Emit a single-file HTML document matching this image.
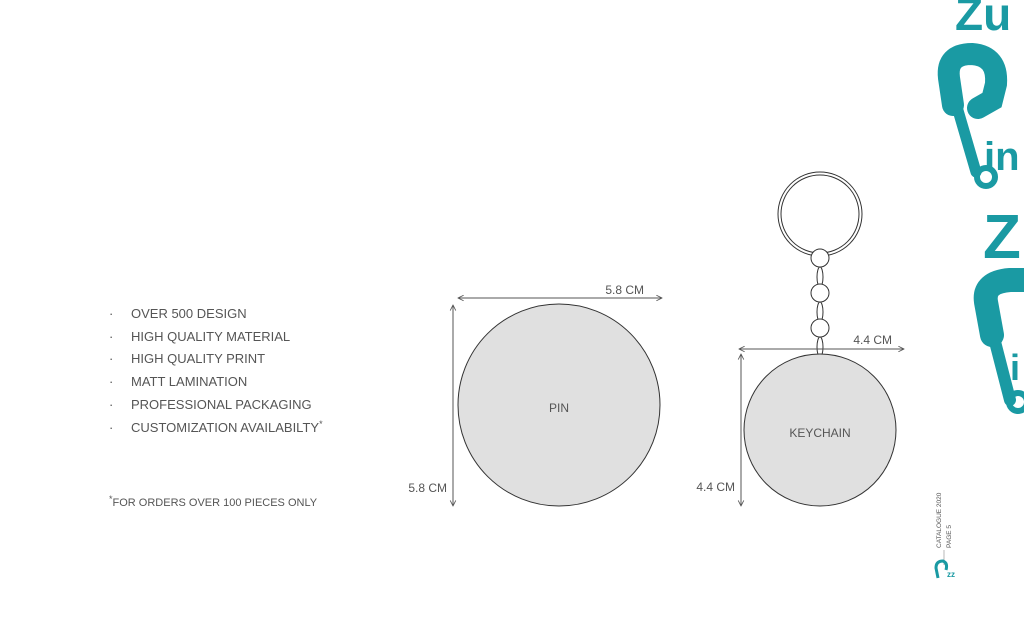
<!DOCTYPE html>
<html><head><style>
body{margin:0;width:1024px;height:638px;background:#fff;overflow:hidden;font-family:"Liberation Sans",sans-serif;}
</style></head><body>
<svg width="1024" height="638" viewBox="0 0 1024 638" xmlns="http://www.w3.org/2000/svg" font-family="Liberation Sans, sans-serif">
<defs>
<marker id="a" viewBox="0 0 10 10" refX="9" refY="5" markerWidth="7" markerHeight="7" orient="auto-start-reverse"><path d="M1 1 L9 5 L1 9" fill="none" stroke="#555" stroke-width="1.2"/></marker>
</defs>
<g fill="#555" font-size="13">
<text x="109" y="318">·</text><text x="131" y="318">OVER 500 DESIGN</text>
<text x="109" y="341">·</text><text x="131" y="341">HIGH QUALITY MATERIAL</text>
<text x="109" y="363">·</text><text x="131" y="363">HIGH QUALITY PRINT</text>
<text x="109" y="386">·</text><text x="131" y="386">MATT LAMINATION</text>
<text x="109" y="409">·</text><text x="131" y="409">PROFESSIONAL PACKAGING</text>
<text x="109" y="432">·</text><text x="131" y="432">CUSTOMIZATION AVAILABILTY<tspan font-size="9" dy="-5">*</tspan></text>
<text x="109" y="506" font-size="11"><tspan font-size="9" dy="-4">*</tspan><tspan dy="4">FOR ORDERS OVER 100 PIECES ONLY</tspan></text>
</g>
<circle cx="559" cy="405" r="101" fill="#e0e0e0" stroke="#333" stroke-width="1"/>
<text x="559" y="412" text-anchor="middle" font-size="12" fill="#555">PIN</text>
<line x1="458" y1="298" x2="662" y2="298" stroke="#555" marker-start="url(#a)" marker-end="url(#a)"/>
<text x="644" y="294" text-anchor="end" font-size="12" fill="#555">5.8 CM</text>
<line x1="453" y1="305" x2="453" y2="506" stroke="#555" marker-start="url(#a)" marker-end="url(#a)"/>
<text x="447" y="492" text-anchor="end" font-size="12" fill="#555">5.8 CM</text>
<circle cx="820" cy="214" r="42" fill="none" stroke="#333" stroke-width="1"/>
<circle cx="820" cy="214" r="39" fill="none" stroke="#333" stroke-width="1"/>
<g fill="#fff" stroke="#333" stroke-width="1">
<ellipse cx="820" cy="277" rx="3" ry="10"/>
<ellipse cx="820" cy="312" rx="3" ry="10"/>
<ellipse cx="820" cy="347" rx="3" ry="10"/>
<circle cx="820" cy="258" r="9"/>
<circle cx="820" cy="293" r="9"/>
<circle cx="820" cy="328" r="9"/>
</g>
<circle cx="820" cy="430" r="76" fill="#e0e0e0" stroke="#333" stroke-width="1"/>
<text x="820" y="437" text-anchor="middle" font-size="12" fill="#555">KEYCHAIN</text>
<line x1="739" y1="349" x2="904" y2="349" stroke="#555" marker-start="url(#a)" marker-end="url(#a)"/>
<text x="892" y="344" text-anchor="end" font-size="12" fill="#555">4.4 CM</text>
<line x1="741" y1="354" x2="741" y2="506" stroke="#555" marker-start="url(#a)" marker-end="url(#a)"/>
<text x="735" y="491" text-anchor="end" font-size="12" fill="#555">4.4 CM</text>
<g fill="#1a9aa3" font-weight="bold">
<text x="955" y="30" font-size="46">Zu</text>
<text x="984" y="170" font-size="40">in</text>
<text x="983" y="258" font-size="62">ZI</text>
<text x="1010" y="380" font-size="36">i</text>
</g>
<g fill="none" stroke="#1a9aa3" stroke-linecap="round">
<path d="M953 105 L949 78 Q946 54 972 54 Q998 56 996 84 L992 100 L978 108" stroke-width="22"/>
<path d="M955 100 L976 172" stroke-width="11"/>
<circle cx="986" cy="177" r="9" stroke-width="6"/>
<path d="M992 335 L986 302 Q983 282 1010 280 L1024 280" stroke-width="24"/>
<path d="M992 330 L1010 400" stroke-width="12"/>
<circle cx="1018" cy="402" r="9" stroke-width="6"/>
</g>
<g fill="#555">
<text transform="translate(941,548) rotate(-90)" font-size="6.5">CATALOGUE 2020</text>
<text transform="translate(951,548) rotate(-90)" font-size="6.5">PAGE 5</text>
</g>
<line x1="944" y1="550" x2="944" y2="565" stroke="#888" stroke-width="0.6"/>
<path d="M938 578 L936 568 Q936 561 943 561 Q948 563 946 570" fill="none" stroke="#1a9aa3" stroke-width="3"/>
<text x="947" y="577" font-size="8" fill="#1a9aa3" font-weight="bold">zz</text>
</svg>
</body></html>
